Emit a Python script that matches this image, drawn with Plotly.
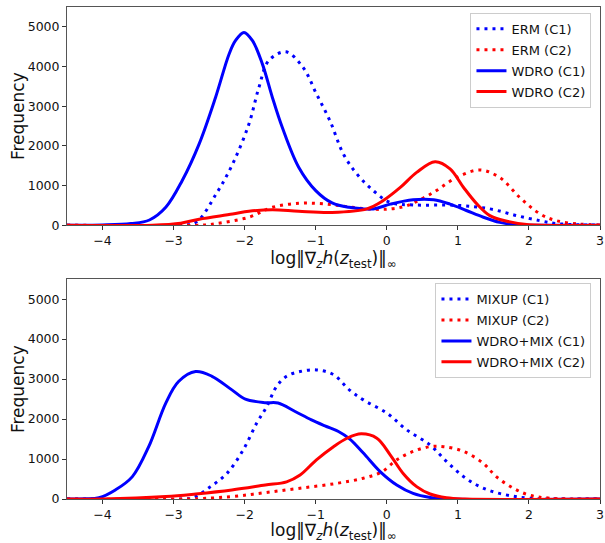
import plotly.graph_objects as go

# ---------------- Top panel data ----------------
erm_c1_x = [-4.5, -2.9, -2.68, -2.4, -2.17, -1.94, -1.8, -1.66, -1.42, -1.18, -0.99, -0.8, -0.61, -0.42, -0.19, 0.05, 0.37, 0.98, 1.45, 1.83, 2.16, 2.39, 2.7, 3.0]
erm_c1_y = [0, 0, 80, 790, 1540, 2550, 3470, 4150, 4370, 3980, 3310, 2630, 1790, 1290, 870, 570, 510, 500, 410, 240, 110, 40, 10, 0]

erm_c2_x = [-4.5, -2.6, -2.4, -1.94, -1.61, -1.24, -0.9, -0.53, -0.19, 0.05, 0.28, 0.66, 0.98, 1.31, 1.59, 1.87, 2.16, 2.39, 2.7, 3.0]
erm_c2_y = [0, 0, 40, 200, 450, 550, 540, 460, 400, 410, 490, 830, 1200, 1390, 1200, 700, 280, 110, 30, 5]

wdro_c1_x = [-4.5, -4.0, -3.6, -3.34, -3.11, -2.88, -2.64, -2.41, -2.22, -2.13, -2.01, -1.89, -1.75, -1.61, -1.47, -1.24, -1.0, -0.77, -0.53, -0.19, 0.05, 0.37, 0.66, 0.89, 1.12, 1.36, 1.59, 1.8, 2.2, 3.0]
wdro_c1_y = [0, 5, 40, 130, 450, 1120, 2050, 3220, 4310, 4650, 4860, 4650, 4060, 3220, 2460, 1460, 870, 560, 450, 410, 530, 640, 640, 530, 370, 200, 70, 10, 0, 0]

wdro_c2_x = [-4.5, -3.3, -2.9, -2.64, -2.17, -1.94, -1.61, -1.24, -0.77, -0.28, -0.05, 0.19, 0.42, 0.68, 0.89, 1.08, 1.27, 1.45, 1.69, 2.0, 3.0]
wdro_c2_y = [0, 0, 50, 150, 280, 350, 390, 350, 320, 410, 620, 950, 1330, 1600, 1420, 950, 530, 240, 100, 10, 0]

# ---------------- Bottom panel data ----------------
mix_c1_x = [-4.5, -2.9, -2.72, -2.48, -2.25, -2.02, -1.83, -1.69, -1.55, -1.41, -1.22, -0.99, -0.75, -0.52, -0.33, 0.0, 0.28, 0.61, 0.84, 1.08, 1.31, 1.54, 1.78, 2.0, 2.3, 3.0]
mix_c1_y = [0, 0, 40, 310, 640, 1230, 1900, 2310, 2820, 3070, 3190, 3230, 3110, 2720, 2480, 2150, 1730, 1350, 940, 560, 310, 160, 70, 20, 0, 0]

mix_c2_x = [-4.5, -2.83, -2.18, -1.71, -1.22, -0.71, -0.33, -0.07, 0.14, 0.37, 0.61, 0.8, 1.08, 1.36, 1.54, 1.78, 2.0, 2.3, 3.0]
mix_c2_y = [0, 0, 60, 160, 270, 390, 520, 680, 980, 1190, 1310, 1310, 1190, 890, 560, 270, 100, 20, 0]

wmix_c1_x = [-4.5, -4.25, -4.05, -3.82, -3.58, -3.35, -3.11, -2.93, -2.69, -2.46, -2.18, -1.99, -1.71, -1.53, -1.29, -1.06, -0.87, -0.68, -0.52, -0.33, -0.09, 0.14, 0.37, 0.61, 0.9, 3.0]
wmix_c1_y = [0, 5, 30, 225, 560, 1310, 2400, 2940, 3190, 3070, 2730, 2500, 2410, 2400, 2190, 1980, 1830, 1690, 1500, 1150, 680, 350, 140, 40, 0, 0]

wmix_c2_x = [-4.5, -4.0, -3.11, -2.69, -2.18, -1.71, -1.41, -1.22, -0.99, -0.75, -0.56, -0.36, -0.14, 0.05, 0.23, 0.42, 0.61, 0.84, 1.1, 3.0]
wmix_c2_y = [0, 0, 60, 125, 225, 350, 430, 600, 980, 1310, 1520, 1630, 1520, 1100, 640, 310, 125, 30, 0, 0]

x_ticks = [-4, -3, -2, -1, 0, 1, 2, 3]
y_ticks = [0, 1000, 2000, 3000, 4000, 5000]
y_title = "Frequency"

BLUE = "#0000ff"
RED = "#ff0000"
DOT = "3px,5px"
FONT = "DejaVu Sans"

fig = go.Figure()

def add(x, y, name, color, dash, xa, ya, legend):
    fig.add_trace(go.Scatter(
        x=x, y=y, name=name, mode="lines", legendgroup=name,
        line=dict(color=color, width=3, dash=dash, shape="spline", smoothing=1.0),
        xaxis=xa, yaxis=ya, legend=legend,
    ))

add(erm_c1_x, erm_c1_y, "ERM (C1)", BLUE, DOT, "x", "y", "legend")
add(erm_c2_x, erm_c2_y, "ERM (C2)", RED, DOT, "x", "y", "legend")
add(wdro_c1_x, wdro_c1_y, "WDRO (C1)", BLUE, "solid", "x", "y", "legend")
add(wdro_c2_x, wdro_c2_y, "WDRO (C2)", RED, "solid", "x", "y", "legend")

add(mix_c1_x, mix_c1_y, "MIXUP (C1)", BLUE, DOT, "x2", "y2", "legend2")
add(mix_c2_x, mix_c2_y, "MIXUP (C2)", RED, DOT, "x2", "y2", "legend2")
add(wmix_c1_x, wmix_c1_y, "WDRO+MIX (C1)", BLUE, "solid", "x2", "y2", "legend2")
add(wmix_c2_x, wmix_c2_y, "WDRO+MIX (C2)", RED, "solid", "x2", "y2", "legend2")

xlabel = "log‖∇<sub><i>z</i></sub><i>h</i>(<i>z</i><sub>test</sub>)‖<sub>∞</sub>"

axis_common = dict(
    showline=True, linecolor="#555", linewidth=1, mirror=True, automargin=False,
    ticks="outside", ticklen=4, tickcolor="#333", showgrid=False, zeroline=False,
    tickfont=dict(family=FONT, size=12.5, color="#111"),
)

legend_common = dict(
    xanchor="right", yanchor="top", bgcolor="white", bordercolor="#ccc",
    borderwidth=1, font=dict(family=FONT, size=13), itemwidth=30,
    tracegroupgap=1, traceorder="grouped",
)

fig.update_layout(
    width=605, height=543,
    margin=dict(l=67, r=5, t=7, b=44),
    plot_bgcolor="white", paper_bgcolor="white",
    font=dict(family=FONT, color="#111"),
    xaxis=dict(domain=[0, 1], anchor="y", range=[-4.5, 3], tickvals=x_ticks,
               title=dict(text=xlabel, font=dict(size=17), standoff=4), **axis_common),
    yaxis=dict(domain=[0.5566, 1.0], anchor="x", range=[0, 5500], tickvals=y_ticks, **axis_common),
    xaxis2=dict(domain=[0, 1], anchor="y2", range=[-4.5, 3], tickvals=x_ticks,
                title=dict(text=xlabel, font=dict(size=17), standoff=4), **axis_common),
    yaxis2=dict(domain=[0, 0.4468], anchor="x2", range=[0, 5500], tickvals=y_ticks, **axis_common),
    legend=dict(x=0.984, y=0.988, **legend_common),
    legend2=dict(x=0.984, y=0.4387, **legend_common),
)

for yref in ["y domain", "y2 domain"]:
    fig.add_annotation(text=y_title, xref="paper", yref=yref, x=-0.0919, y=0.5,
                       xanchor="center", yanchor="middle", textangle=-90, showarrow=False,
                       font=dict(family=FONT, size=17, color="#111"))

fig.write_html("out.html", config={"displayModeBar": False},
               post_script="document.body.style.margin='0';")
